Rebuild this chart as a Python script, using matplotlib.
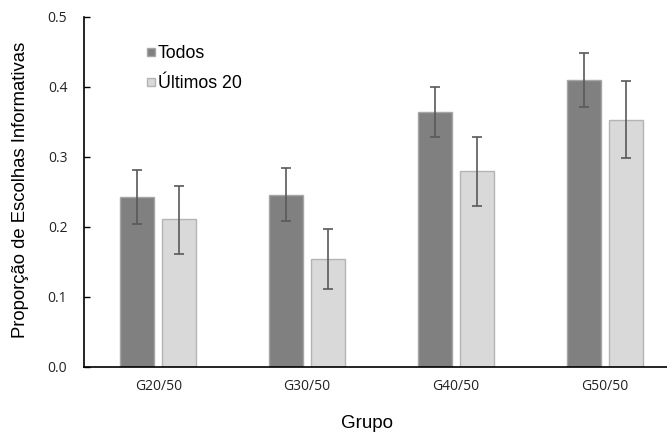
import matplotlib
matplotlib.use("Agg")
import matplotlib.pyplot as plt
import numpy as np
from matplotlib.lines import Line2D

groups = ["G20/50", "G30/50", "G40/50", "G50/50"]
todos = [0.243, 0.246, 0.365, 0.410]
todos_lo = [0.205, 0.209, 0.329, 0.372]
todos_hi = [0.281, 0.284, 0.400, 0.449]
ultimos = [0.211, 0.154, 0.280, 0.353]
ultimos_lo = [0.162, 0.111, 0.230, 0.298]
ultimos_hi = [0.259, 0.197, 0.329, 0.408]
yticks = [0.0, 0.1, 0.2, 0.3, 0.4, 0.5]

W, H = 667, 437
fig = plt.figure(figsize=(W / 100, H / 100), dpi=100)
ax = fig.add_axes([84 / W, (H - 367) / H, (679 - 84) / W, (367 - 17) / H])

x = np.arange(len(groups))
bw = 0.2286
off = 0.142
t_err = [np.array(todos) - np.array(todos_lo), np.array(todos_hi) - np.array(todos)]
u_err = [np.array(ultimos) - np.array(ultimos_lo), np.array(ultimos_hi) - np.array(ultimos)]
ax.bar(x - off, todos, bw, color="#808080", edgecolor="#a6a6a6", linewidth=1.0, zorder=2)
ax.bar(x + off, ultimos, bw, color="#d9d9d9", edgecolor="#b4b4b4", linewidth=1.0, zorder=2)
ax.errorbar(x - off, todos, yerr=t_err, fmt="none", ecolor="#595959", elinewidth=1.2, capsize=3.5, capthick=1.2, zorder=3)
ax.errorbar(x + off, ultimos, yerr=u_err, fmt="none", ecolor="#595959", elinewidth=1.2, capsize=3.5, capthick=1.2, zorder=3)

ax.set_xlim(-0.5, len(groups) - 0.5)
ax.set_ylim(0, 0.5)
ax.set_yticks(yticks)
ax.set_yticklabels([f"{v:.1f}" for v in yticks], fontsize=10, family="Open Sans", color="#222222")
ax.set_xticks(x)
ax.set_xticklabels(groups, fontsize=10, family="Open Sans", color="#222222")
ax.tick_params(axis="x", length=0, pad=9)
ax.tick_params(axis="y", direction="in", length=4, width=1, pad=12)
for s in ["top", "right"]:
    ax.spines[s].set_visible(False)
for s in ["left", "bottom"]:
    ax.spines[s].set_linewidth(1.2)
    ax.spines[s].set_color("black")

fig.text(21 / W, 1 - 190 / H, "Proporção de Escolhas Informativas", rotation=90,
         ha="center", va="center", fontsize=13.3, family="Liberation Sans")
fig.text(367 / W, 1 - 424 / H, "Grupo", ha="center", va="center", fontsize=13.5, family="Liberation Sans")

handles = [
    Line2D([], [], marker="s", linestyle="none", markersize=6, markerfacecolor="#808080", markeredgecolor="#a6a6a6"),
    Line2D([], [], marker="s", linestyle="none", markersize=6, markerfacecolor="#d9d9d9", markeredgecolor="#b4b4b4"),
]
ax.legend(handles, ["Todos", "Últimos 20"], loc="upper left", bbox_to_anchor=(135 / W, 1 - 36 / H),
          bbox_transform=fig.transFigure, frameon=False, prop={"family": "Liberation Sans", "size": 12.8},
          handletextpad=0.0, handlelength=0.8, labelspacing=0.75, borderpad=0)

fig.savefig("out.png", dpi=100)
